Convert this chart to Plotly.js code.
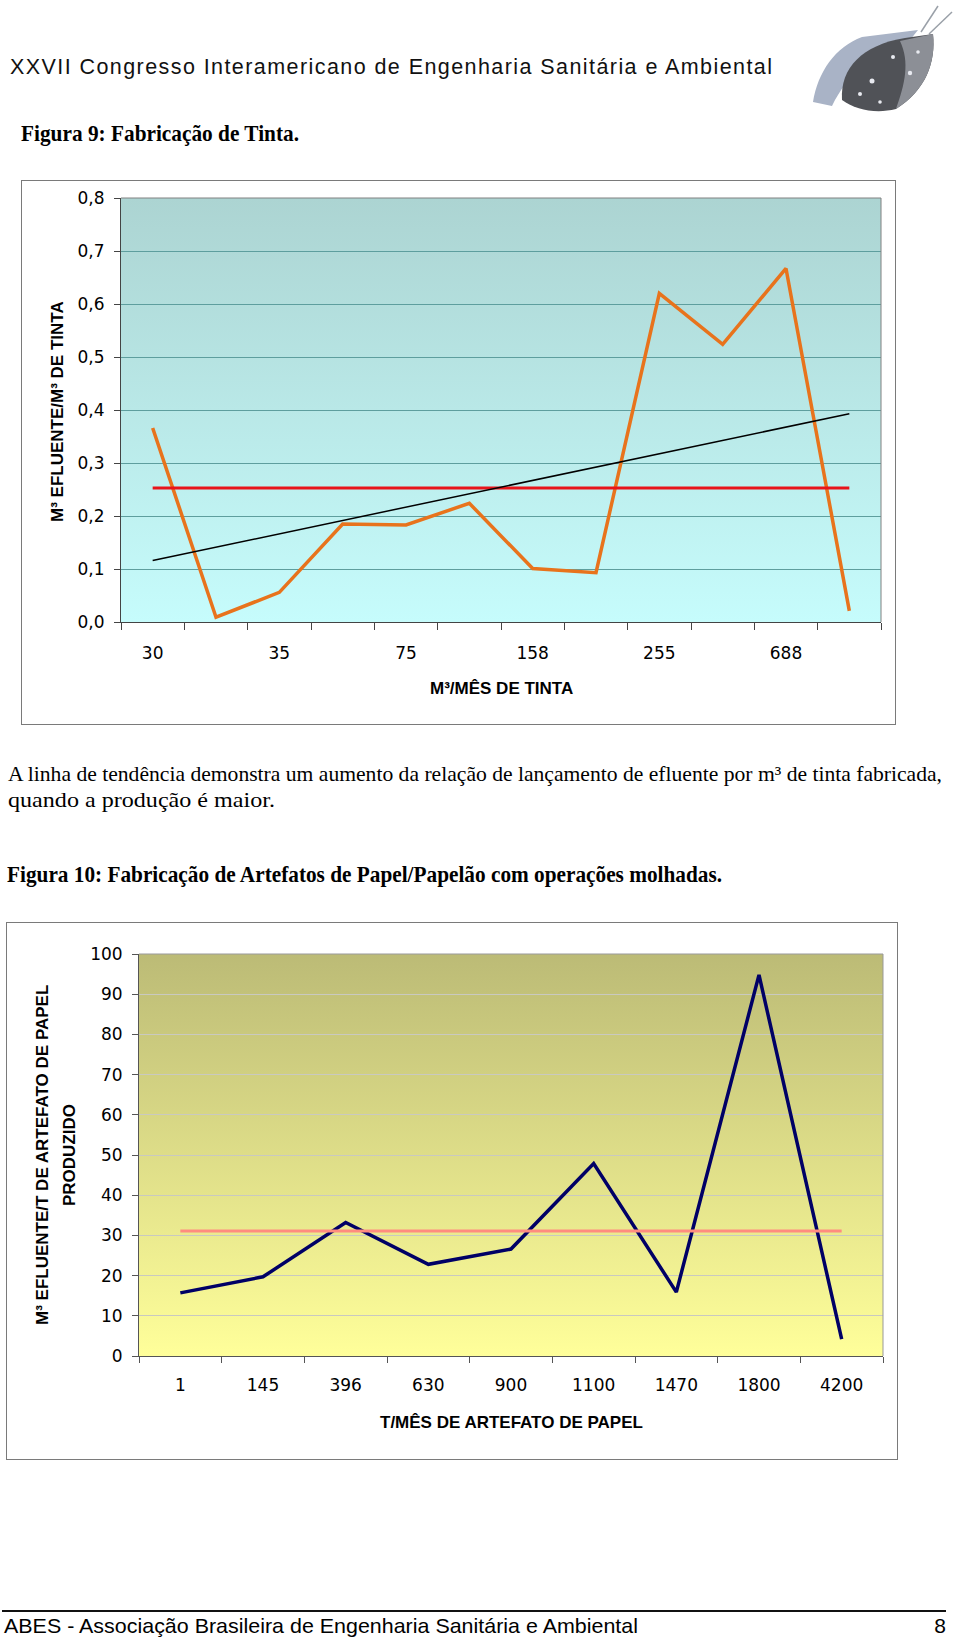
<!DOCTYPE html>
<html><head><meta charset="utf-8">
<script src="https://cdn.plot.ly/plotly-3.0.1.min.js"></script>
<style>
html,body{margin:0;padding:0;background:#fff;}
body{width:960px;height:1640px;position:relative;overflow:hidden;}
#page{position:absolute;left:0;top:0;}
.chart{position:absolute;}
.frame{position:absolute;border:1px solid #7a7a7a;box-sizing:border-box;pointer-events:none;}
</style></head><body>
<svg id="page" width="960" height="1640" xmlns="http://www.w3.org/2000/svg">
  <text x="10" y="74" font-family="Liberation Sans, Arial, sans-serif" font-size="21.5" fill="#111" textLength="762" lengthAdjust="spacing">XXVII Congresso Interamericano de Engenharia Sanitária e Ambiental</text>
  <g id="logo">
    <line x1="921" y1="32" x2="938" y2="6" stroke="#9aa0a8" stroke-width="1.5"/>
    <line x1="929" y1="34" x2="952" y2="12" stroke="#9aa0a8" stroke-width="1.5"/>
    <path d="M813,102 C818,72 835,47 862,37 L918,30 L906,45 C872,52 848,74 832,106 Z" fill="#a9b3c6"/>
    <path d="M842,100 C840,68 862,45 905,38 L933,34 C936,62 926,90 896,109 C876,114 856,110 842,100 Z" fill="#505257"/>
    <path d="M900,41 L933,34 C936,62 926,90 896,109 C905,84 910,62 900,41 Z" fill="#8c8f96"/>
    <circle cx="872" cy="81" r="2.5" fill="#e8eaf0"/>
    <circle cx="860" cy="94" r="2" fill="#e8eaf0"/>
    <circle cx="893" cy="57" r="2" fill="#e8eaf0"/>
    <circle cx="910" cy="73" r="2.2" fill="#e8eaf0"/>
    <circle cx="880" cy="102" r="1.8" fill="#e8eaf0"/>
    <circle cx="918" cy="52" r="1.8" fill="#e8eaf0"/>
  </g>
  <text x="21" y="141" font-family="Liberation Serif, Times New Roman, serif" font-weight="bold" font-size="23.5" fill="#000" textLength="278" lengthAdjust="spacingAndGlyphs">Figura 9: Fabricação de Tinta.</text>
  <text x="8" y="781" font-family="Liberation Serif, Times New Roman, serif" font-size="21" fill="#000" textLength="934" lengthAdjust="spacingAndGlyphs">A linha de tendência demonstra um aumento da relação de lançamento de efluente por m³ de tinta fabricada,</text>
  <text x="8" y="807" font-family="Liberation Serif, Times New Roman, serif" font-size="22" fill="#000" textLength="267" lengthAdjust="spacingAndGlyphs">quando a produção é maior.</text>
  <text x="7" y="882" font-family="Liberation Serif, Times New Roman, serif" font-weight="bold" font-size="23.5" fill="#000" textLength="715" lengthAdjust="spacingAndGlyphs">Figura 10: Fabricação de Artefatos de Papel/Papelão com operações molhadas.</text>
  <line x1="2" y1="1611" x2="946" y2="1611" stroke="#111" stroke-width="2"/>
  <text x="4" y="1633" font-family="Liberation Sans, Arial, sans-serif" font-size="21" fill="#000" textLength="634" lengthAdjust="spacingAndGlyphs">ABES - Associação Brasileira de Engenharia Sanitária e Ambiental</text>
  <text x="946" y="1633" text-anchor="end" font-family="Liberation Sans, Arial, sans-serif" font-size="21" fill="#000">8</text>
</svg>
<div id="c1" class="chart" style="left:21px;top:180px;width:875px;height:545px"></div>
<div class="frame" style="left:21px;top:180px;width:875px;height:545px"></div>
<div id="c2" class="chart" style="left:6px;top:922px;width:892px;height:538px"></div>
<div class="frame" style="left:6px;top:922px;width:892px;height:538px"></div>
<script>
// ---- Figura 9: Fabricação de Tinta ----
const tintaRotulos = ['30', '35', '75', '158', '255', '688'];
const tintaValores = [0.366, 0.009, 0.056, 0.185, 0.183, 0.224, 0.101, 0.093, 0.620, 0.524, 0.667, 0.021];
const tintaMedia = 0.253;
const tintaTendencia = [0.116, 0.393];

// ---- Figura 10: Artefatos de Papel/Papelão ----
const papelCategorias = ['1', '145', '396', '630', '900', '1100', '1470', '1800', '4200'];
const papelValores = [15.7, 19.7, 33.2, 22.8, 26.6, 47.9, 15.9, 94.8, 4.2];
const papelMedia = 31.1;

function grad(top, bottom) {
  const svg = '<svg xmlns="http://www.w3.org/2000/svg" width="10" height="100" preserveAspectRatio="none">' +
    '<defs><linearGradient id="g" x1="0" y1="0" x2="0" y2="1">' +
    '<stop offset="0" stop-color="' + top + '"/><stop offset="1" stop-color="' + bottom + '"/>' +
    '</linearGradient></defs><rect width="10" height="100" fill="url(#g)"/></svg>';
  return 'data:image/svg+xml;charset=utf-8,' + encodeURIComponent(svg);
}
const bgImage = (src) => ({source: src, xref: 'paper', yref: 'paper', x: 0, y: 1, sizex: 1, sizey: 1,
  xanchor: 'left', yanchor: 'top', sizing: 'stretch', layer: 'below'});
const tickFont = {family: 'DejaVu Sans, Verdana, sans-serif', size: 17, color: '#000'};
const titleFont = (s) => ({family: 'Liberation Sans, Arial, sans-serif', size: s, color: '#000'});
const frameLines = (c) => [
  {type: 'line', xref: 'paper', yref: 'paper', x0: 0, x1: 1, y0: 1, y1: 1, line: {color: c, width: 1}},
  {type: 'line', xref: 'paper', yref: 'paper', x0: 1, x1: 1, y0: 0, y1: 1, line: {color: c, width: 1}}
];

// Chart 1
const idx = tintaValores.map((_, i) => i);
const last = tintaValores.length - 1;
const bounds = [];
for (let i = 0; i <= tintaValores.length; i++) bounds.push(i - 0.5);
const traces1 = [
  {x: idx, y: tintaValores, mode: 'lines', line: {color: '#E8731C', width: 3.5}, hoverinfo: 'skip'},
  {x: [0, last], y: [tintaMedia, tintaMedia], mode: 'lines', line: {color: '#E8141A', width: 3}, hoverinfo: 'skip'},
  {x: [0, last], y: tintaTendencia, mode: 'lines', line: {color: '#000', width: 1.5}, hoverinfo: 'skip'}
];
const layout1 = {
  width: 875, height: 545, margin: {l: 100, r: 15, t: 18, b: 103},
  paper_bgcolor: 'rgba(0,0,0,0)', plot_bgcolor: 'rgba(0,0,0,0)',
  separators: ',.', showlegend: false, font: tickFont,
  xaxis: {range: [-0.5, last + 0.5], tickmode: 'array', tickvals: tintaRotulos.map((_, i) => 2 * i),
    ticktext: tintaRotulos, ticks: '', tickfont: tickFont, ticklabelstandoff: 16,
    minor: {tickmode: 'array', tickvals: bounds, ticks: 'outside', ticklen: 7, tickcolor: '#444', showgrid: false},
    showline: true, linecolor: '#444', linewidth: 1, showgrid: false, zeroline: false},
  yaxis: {range: [0, 0.8], tick0: 0, dtick: 0.1, tickformat: '.1f', ticks: 'outside', ticklen: 6,
    tickcolor: '#444', showline: true, linecolor: '#444', gridcolor: '#5E9E9E', gridwidth: 1,
    zeroline: false, tickfont: tickFont, ticklabelstandoff: 6},
  images: [bgImage(grad('#acd4d2', '#c6fcfc'))],
  shapes: frameLines('#808080'),
  annotations: [
    {text: '<b>M³ EFLUENTE/M³ DE TINTA</b>', textangle: -90, xref: 'paper', yref: 'paper', x: 0, y: 0.5,
      xanchor: 'center', yanchor: 'middle', xshift: -64, yshift: -2, showarrow: false, font: titleFont(17)},
    {text: '<b>M³/MÊS DE TINTA</b>', xref: 'paper', yref: 'paper', x: 0.5, y: 0, xanchor: 'center',
      yanchor: 'middle', yshift: -66, showarrow: false, font: titleFont(17)}
  ]
};
Plotly.newPlot('c1', traces1, layout1, {staticPlot: true, displayModeBar: false});

// Chart 2
const n2 = papelCategorias.length;
const traces2 = [
  {x: papelCategorias, y: papelValores, mode: 'lines', line: {color: '#000066', width: 3.5}, hoverinfo: 'skip'},
  {x: [papelCategorias[0], papelCategorias[n2 - 1]], y: [papelMedia, papelMedia], mode: 'lines',
    line: {color: '#FF8C80', width: 3}, hoverinfo: 'skip'}
];
const layout2 = {
  width: 892, height: 538, margin: {l: 133, r: 15, t: 32, b: 104},
  paper_bgcolor: 'rgba(0,0,0,0)', plot_bgcolor: 'rgba(0,0,0,0)',
  showlegend: false, font: tickFont,
  xaxis: {type: 'category', categoryorder: 'array', categoryarray: papelCategorias, range: [-0.5, n2 - 0.5],
    tickson: 'boundaries', ticks: 'outside', ticklen: 6, tickcolor: '#555', showline: true, linecolor: '#555',
    showgrid: false, zeroline: false, tickfont: tickFont, ticklabelstandoff: 14},
  yaxis: {range: [0, 100], tick0: 0, dtick: 10, ticks: 'outside', ticklen: 6, tickcolor: '#555', showline: true,
    linecolor: '#555', gridcolor: '#c9c9c0', gridwidth: 1, zeroline: false,
    tickfont: tickFont, ticklabelstandoff: 6},
  images: [bgImage(grad('#bcbb76', '#ffff9a'))],
  shapes: frameLines('#999999'),
  annotations: [
    {text: '<b>M³ EFLUENTE/T DE ARTEFATO DE PAPEL</b>', textangle: -90, xref: 'paper', yref: 'paper', x: 0, y: 0.5,
      xanchor: 'center', yanchor: 'middle', xshift: -97, showarrow: false, font: titleFont(17)},
    {text: '<b>PRODUZIDO</b>', textangle: -90, xref: 'paper', yref: 'paper', x: 0, y: 0.5,
      xanchor: 'center', yanchor: 'middle', xshift: -70, showarrow: false, font: titleFont(17)},
    {text: '<b>T/MÊS DE ARTEFATO DE PAPEL</b>', xref: 'paper', yref: 'paper', x: 0.5, y: 0, xanchor: 'center',
      yanchor: 'middle', yshift: -66, showarrow: false, font: titleFont(17)}
  ]
};
Plotly.newPlot('c2', traces2, layout2, {staticPlot: true, displayModeBar: false});
</script>
</body></html>
